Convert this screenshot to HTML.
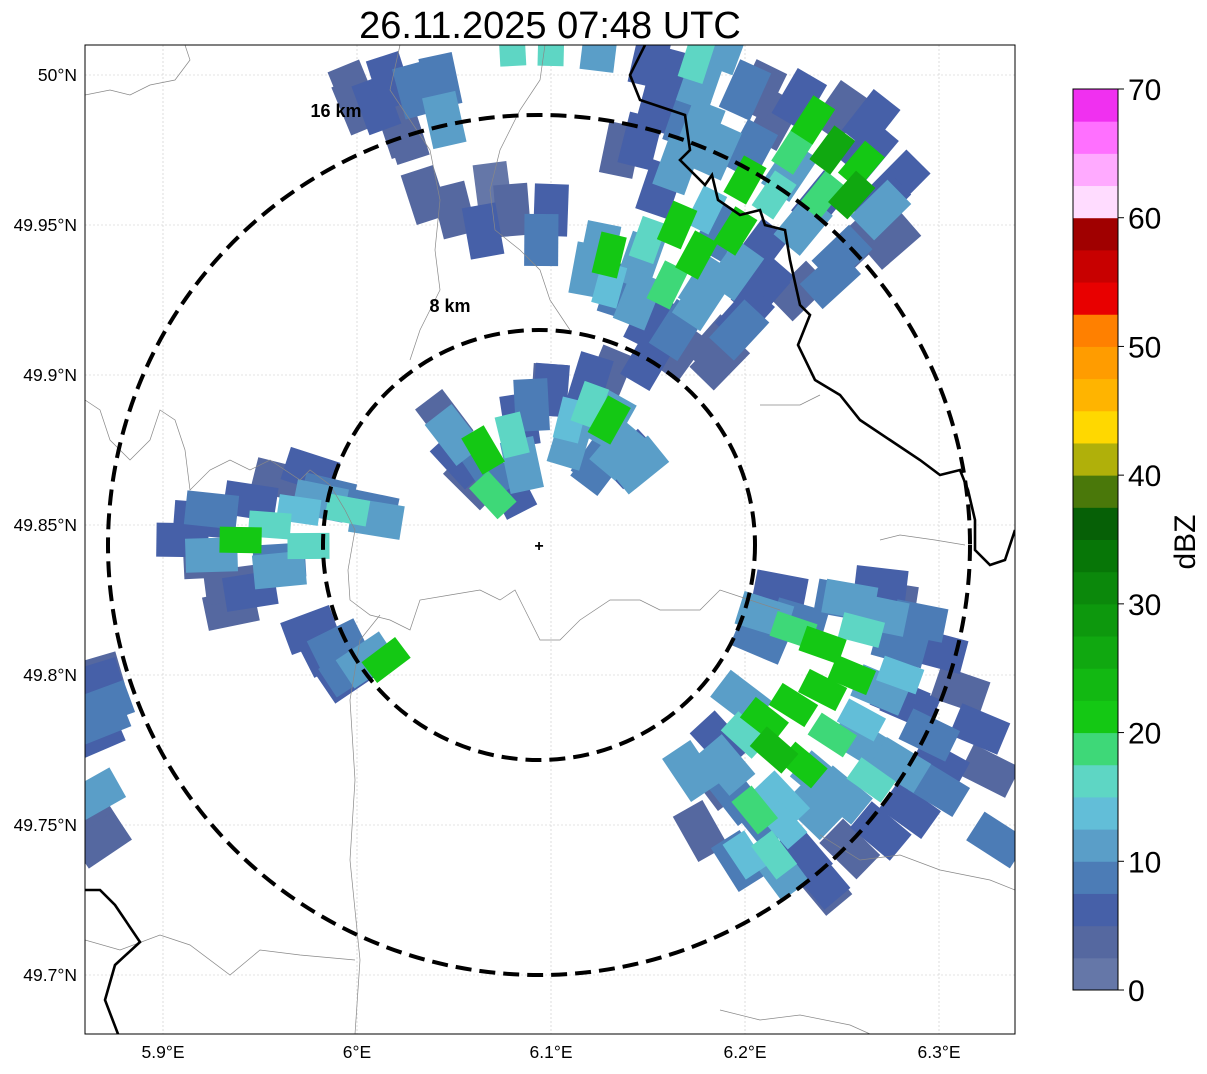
<!DOCTYPE html>
<html><head><meta charset="utf-8"><style>
body{margin:0;background:#fff;font-family:"Liberation Sans",sans-serif}
svg text{font-family:"Liberation Sans",sans-serif}
</style></head><body>
<svg id="chart" width="1207" height="1069" viewBox="0 0 1207 1069">
<text x="550" y="38" font-size="38" text-anchor="middle">26.11.2025 07:48 UTC</text>
<defs><clipPath id="pc"><rect x="85" y="45" width="930" height="989"/></clipPath></defs>
<g id="grid"></g>
<g id="cells" clip-path="url(#pc)"></g>
<g clip-path="url(#pc)">
<path d="M85,95 L110,90 L130,95 L150,85 L175,80 L190,60 L185,45" fill="none" stroke="#888" stroke-width="0.7"/>
<path d="M85,400 L100,410 L110,440 L130,460 L150,440 L160,410 L175,420 L185,450 L190,490 L210,470 L230,460 L250,470 L270,460 L300,480 L310,470 L330,485 L345,510 L355,530 L348,570 L350,600 L370,615 L390,620 L410,630 L420,600 L450,595 L480,590 L500,600 L515,590 L525,610 L540,640 L560,640 L580,620 L610,600 L640,600 L660,610 L700,610 L720,590 L750,600 L780,610" fill="none" stroke="#888" stroke-width="0.7"/>
<path d="M380,615 L360,640 L350,700 L355,780 L350,860 L360,960 L355,1034" fill="none" stroke="#888" stroke-width="0.7"/>
<path d="M85,940 L120,950 L160,935 L190,945 L230,975 L260,950 L300,955 L355,960" fill="none" stroke="#888" stroke-width="0.7"/>
<path d="M720,1010 L760,1020 L800,1015 L850,1025 L870,1034" fill="none" stroke="#888" stroke-width="0.7"/>
<path d="M820,835 L860,860 L900,855 L940,870 L990,880 L1015,890" fill="none" stroke="#888" stroke-width="0.7"/>
<path d="M880,540 L900,535 L935,540 L965,545" fill="none" stroke="#888" stroke-width="0.7"/>
<path d="M545,45 L540,80 L520,110 L500,150 L490,190 L495,230 L520,250 L540,270 L550,300 L570,330" fill="none" stroke="#888" stroke-width="0.7"/>
<path d="M400,45 L390,90 L430,150 L440,200 L435,250 L440,290 L420,330 L410,360" fill="none" stroke="#888" stroke-width="0.7"/>
<path d="M760,405 L800,405 L820,395" fill="none" stroke="#888" stroke-width="0.7"/>
<path d="M645,45 L630,75 L640,100 L685,115 L690,150 L680,160 L705,185 L712,175 L718,200 L740,215 L760,210 L765,225 L785,230 L790,260 L800,305 L810,315 L798,345 L815,380 L840,395 L860,420 L890,440 L920,460 L940,475 L960,470 L968,490 L975,520 L975,550 L990,565 L1005,560 L1015,530" fill="none" stroke="#000" stroke-width="2.6"/>
<path d="M85,890 L100,890 L115,905 L140,942 L115,965 L105,1000 L118,1034" fill="none" stroke="#000" stroke-width="2.6"/>
</g>
<g>
<ellipse cx="539" cy="545" rx="216" ry="215" fill="none" stroke="#000" stroke-width="4" stroke-dasharray="16,8"/>
<ellipse cx="539" cy="545" rx="431" ry="430" fill="none" stroke="#000" stroke-width="4" stroke-dasharray="16,8"/>
<text x="336" y="117" font-size="18" font-weight="bold" text-anchor="middle">16 km</text>
<text x="450" y="312" font-size="18" font-weight="bold" text-anchor="middle">8 km</text>
<text x="539" y="551" font-size="16" font-weight="bold" text-anchor="middle">+</text>
</g>
<rect x="85" y="45" width="930" height="989" fill="none" stroke="#000" stroke-width="1"/>
<g id="ticks"></g>
<g id="cbar"></g>
<text transform="translate(1195,542) rotate(-90)" font-size="30" text-anchor="middle">dBZ</text>
</svg>
<script>
const lonTicks=[5.9,6.0,6.1,6.2,6.3];
const lonLabels=["5.9°E","6°E","6.1°E","6.2°E","6.3°E"];
const latTicks=[50.0,49.95,49.9,49.85,49.8,49.75,49.7];
const latLabels=["50°N","49.95°N","49.9°N","49.85°N","49.8°N","49.75°N","49.7°N"];
const cbTicks=[0,10,20,30,40,50,60,70];
const cbColors=["#6577a8","#5568a0","#4660a8","#4c7cb6","#5a9ec8","#62bed8","#5ed6c4","#3ed878","#14c814","#12b812","#10a810","#0d980d","#0b880b","#077607","#066006","#4a780a","#b0b00a","#ffd800","#ffb400","#ff9c00","#ff8000","#e80000","#c80000","#a00000","#780000","#ffdcff","#ffaaff","#ff70ff","#f030f0"];
const cellLon=[
5.998,6.017,6.043,6.022,6.151,6.177,6.208,6.228,6.249,6.264,6.27,6.259,6.244,6.228,6.208,6.187,6.156,6.146,6.136,6.177,6.203,6.223,6.239,
6.125,6.136,6.151,6.166,6.187,6.197,6.208,6.177,6.146,
6.045,6.053,6.068,6.079,6.084,6.099,6.12,6.13,6.141,6.125,6.11,
5.919,5.924,5.94,5.945,5.96,5.976,5.96,5.981,6.007,5.935,
5.976,5.986,5.996,
6.218,6.275,6.29,6.3,6.311,6.321,6.326,6.3,6.285,6.27,6.254,6.239,6.218,6.197,6.177,6.172,6.187,6.198,6.208,6.228,6.254,6.28,6.259,6.239,6.218,6.208,
5.865,5.868,5.865,
6.01,6.03,6.045,6.025,6.0, 6.08,6.1,6.125, 6.05,6.065,6.08,6.095,6.1,6.07,6.035,
6.16,6.175,6.19,6.2,6.215,6.225,6.235,6.245,6.26,6.255,6.27,6.24,6.23,6.215,6.2,6.185,6.17,6.265,6.28,6.275,6.25,6.18,6.195,6.155,6.165,
6.13,6.15,6.165,6.175,6.16,6.145,6.13,6.18,6.195,6.2,6.165,6.15,6.185,6.21,6.12,
6.05,6.065,6.08,6.07,6.09,6.1,6.11,6.12,6.13,6.135,6.145,6.125,6.085,6.06,6.13,
5.91,5.925,5.94,5.955,5.97,5.985,5.995,6.01,5.96,5.945,5.935,5.925,5.975,
5.99,6.005,6.015,5.995,
6.21,6.225,6.24,6.26,6.27,6.28,6.255,6.24,6.225,6.21,6.2,6.215,6.23,6.245,6.26,6.27,6.285,6.295,6.3,6.28,6.265,6.25,6.235,6.22,6.205,6.195,6.185,6.2,6.215,6.23,6.24,6.28,6.27,6.25,6.19,
5.865,5.865,5.865,5.868,5.87, 6.33];
const cellLat=[
49.995,49.998,49.998,49.982,50.005,49.998,49.995,49.992,49.988,49.975,49.958,49.945,49.932,49.928,49.942,49.948,49.962,49.978,49.975,49.982,49.975,49.968,49.958,
49.942,49.928,49.918,49.908,49.905,49.915,49.928,49.925,49.938,
49.885,49.872,49.868,49.862,49.885,49.895,49.898,49.885,49.872,49.872,49.878,
49.852,49.838,49.828,49.858,49.865,49.868,49.838,49.858,49.855,49.822,
49.815,49.808,49.802,
49.828,49.825,49.818,49.808,49.795,49.782,49.768,49.762,49.755,49.748,49.742,49.732,49.735,49.738,49.748,49.768,49.778,49.792,49.812,49.818,49.825,49.792,49.778,49.765,49.758,49.752,
49.798,49.785,49.748,
49.99,49.995,49.985,49.98,49.99, 50.01,50.01,50.01, 49.955,49.948,49.955,49.945,49.955,49.962,49.96,
50.0,50.005,50.01,49.995,49.985,49.975,49.985,49.975,49.97,49.96,49.955,49.96,49.95,49.96,49.965,49.975,49.985,49.985,49.965,49.945,49.94,49.955,49.948,49.99,49.97,
49.94,49.945,49.95,49.94,49.93,49.925,49.93,49.93,49.935,49.92,49.915,49.905,49.91,49.93,49.935,
49.88,49.875,49.88,49.86,49.89,49.895,49.885,49.89,49.885,49.875,49.87,49.87,49.87,49.865,49.9,
49.845,49.84,49.845,49.85,49.855,49.86,49.855,49.852,49.835,49.828,49.83,49.855,49.843,
49.81,49.805,49.805,49.8,
49.82,49.815,49.81,49.815,49.82,49.81,49.8,49.795,49.79,49.785,49.78,49.775,49.77,49.78,49.785,49.795,49.79,49.78,49.77,49.77,49.765,49.76,49.755,49.75,49.755,49.76,49.765,49.74,49.74,49.74,49.73,49.8,49.83,49.825,49.77,
49.8,49.78,49.76,49.745,49.79, 49.745];
const cellDbz=[
4,7,9,3,6,10,4,7,3,5,6,4,8,3,6,9,5,7,4,11,8,10,6,
11,9,7,3,4,8,5,10,12,
4,6,9,5,7,3,6,10,5,8,11,
6,4,2,7,3,5,8,10,9,3,
7,5,9,
6,4,8,5,3,6,4,9,5,7,3,6,10,8,4,12,7,10,8,9,11,7,12,10,13,9,
6,9,4,
5,8,12,3,3, 15,16,12, 4,6,3,8,5,2,3,
5,17,10,8,3,18,20,25,20,25,12,18,10,15,20,12,8,6,5,4,8,14,22,6,12,
20,16,22,20,18,12,14,10,12,6,8,5,4,5,10,
10,22,15,18,8,5,14,16,20,12,10,8,12,4,4,
6,12,20,16,14,8,17,12,10,6,4,8,15,
8,12,20,5,
10,18,20,16,12,8,22,20,22,20,15,24,22,18,14,10,6,8,5,12,16,10,12,14,18,8,4,14,17,6,4,14,6,9,11,
4,6,12,4,8, 8];
const NS="http://www.w3.org/2000/svg";
const X0=85,X1=1015,Y0=45,Y1=1034;
function xs(lon){return 357+(lon-6.0)*1940;}
function ys(lat){return 75+(50.0-lat)*3000;}
function cb(v){return 990-v/70*901;}
function colorFor(v){return cbColors[Math.min(cbColors.length-1,Math.max(0,Math.floor(v/2.5)))];}
const grid=document.getElementById('grid'),ticks=document.getElementById('ticks');
lonTicks.forEach((t,i)=>{const x=xs(t);
const l=document.createElementNS(NS,'line');l.setAttribute('x1',x);l.setAttribute('x2',x);l.setAttribute('y1',Y0);l.setAttribute('y2',Y1);l.setAttribute('stroke','#c8c8c8');l.setAttribute('stroke-width','0.6');l.setAttribute('stroke-dasharray','2,2');

grid.appendChild(l);
const tx=document.createElementNS(NS,'text');tx.setAttribute('x',x);tx.setAttribute('y',1058);tx.setAttribute('font-size','17.5');tx.setAttribute('text-anchor','middle');tx.textContent=lonLabels[i];

ticks.appendChild(tx);});
latTicks.forEach((t,i)=>{const y=ys(t);
const l=document.createElementNS(NS,'line');l.setAttribute('x1',X0);l.setAttribute('x2',X1);l.setAttribute('y1',y);l.setAttribute('y2',y);l.setAttribute('stroke','#c8c8c8');l.setAttribute('stroke-width','0.6');l.setAttribute('stroke-dasharray','2,2');

grid.appendChild(l);
const tx=document.createElementNS(NS,'text');tx.setAttribute('x',77);tx.setAttribute('y',y+6);tx.setAttribute('font-size','17.5');tx.setAttribute('text-anchor','end');tx.textContent=latLabels[i];

ticks.appendChild(tx);});
const cells=document.getElementById('cells');
const idx=cellDbz.map((v,i)=>i).sort((a,b)=>cellDbz[a]-cellDbz[b]);
idx.forEach(i=>{const x=xs(cellLon[i]),y=ys(cellLat[i]);
const ang=Math.atan2(y-545,x-539)*180/Math.PI;
const big=cellDbz[i]<14;
const w=big?52:42,h=big?34:26;
const r=document.createElementNS(NS,'rect');r.setAttribute('x',x-w/2);r.setAttribute('y',y-h/2);r.setAttribute('width',w);r.setAttribute('height',h);r.setAttribute('fill',colorFor(cellDbz[i]));
r.setAttribute('transform','rotate('+ang+' '+x+' '+y+')');

cells.appendChild(r);});
const cbar=document.getElementById('cbar');
for(let k=0;k<28;k++){const v0=k*2.5,v1=v0+2.5;const r=document.createElementNS(NS,'rect');
r.setAttribute('x',1073);r.setAttribute('y',cb(v1));r.setAttribute('width',45);r.setAttribute('height',cb(v0)-cb(v1)+0.5);
r.setAttribute('fill',k<24?cbColors[k]:cbColors[k+1]);

cbar.appendChild(r);}
const fr=document.createElementNS(NS,'rect');fr.setAttribute('x',1073);fr.setAttribute('y',89);fr.setAttribute('width',45);fr.setAttribute('height',901);fr.setAttribute('fill','none');fr.setAttribute('stroke','#000');

cbar.appendChild(fr);
cbTicks.forEach(t=>{const y=cb(t);const l=document.createElementNS(NS,'line');l.setAttribute('x1',1118);l.setAttribute('x2',1124);l.setAttribute('y1',y);l.setAttribute('y2',y);l.setAttribute('stroke','#000');

cbar.appendChild(l);
const tx=document.createElementNS(NS,'text');tx.setAttribute('x',1128);tx.setAttribute('y',y+11);tx.setAttribute('font-size','30');tx.textContent=t;

cbar.appendChild(tx);});
</script>
</body></html>
